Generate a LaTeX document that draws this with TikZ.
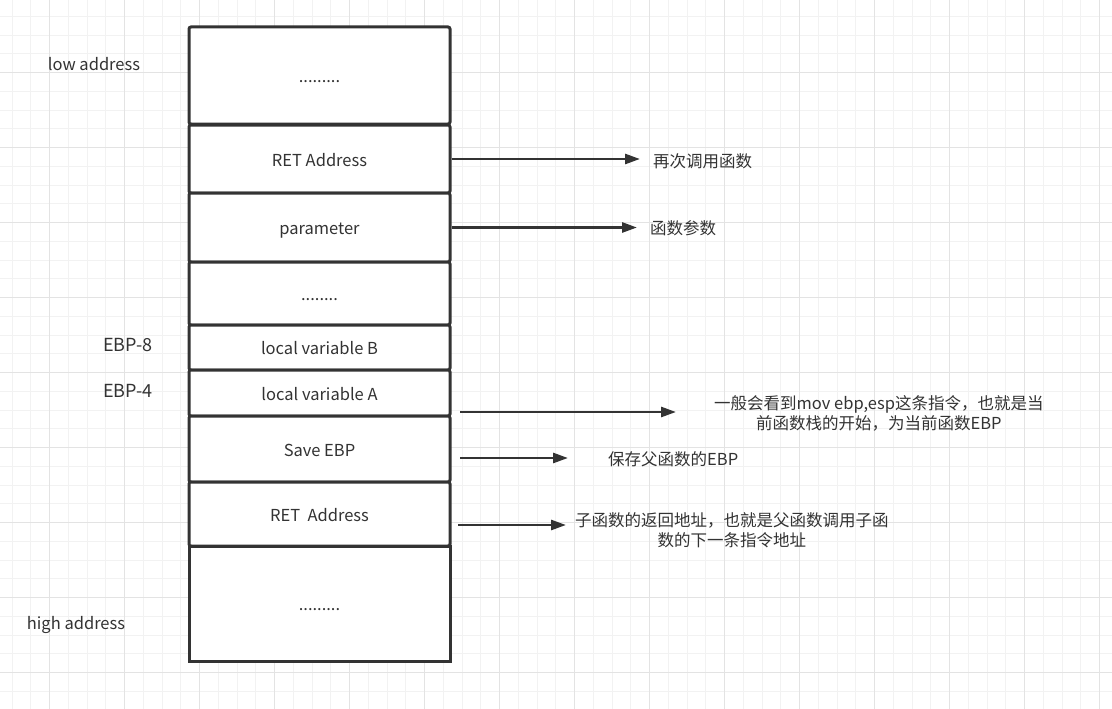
\documentclass[tikz,border=0pt]{standalone}
\usepackage{fontspec}
\setmainfont{Noto Sans CJK SC}
\usetikzlibrary{arrows.meta}
\definecolor{ink}{HTML}{333333}
\definecolor{gridminor}{HTML}{F2F2F2}
\definecolor{gridmajor}{HTML}{E3E3E3}

\begin{document}
\begin{tikzpicture}[x=1pt,y=-1pt,
cell/.style={draw=ink, line width=3pt, rounded corners=2pt, fill=white, minimum width=261pt, inner sep=0pt, text height=14pt, text depth=0pt, text=ink, font=\fontsize{16.5}{19}\selectfont},
note/.style={anchor=west, inner sep=0pt, align=center, text=ink, font=\fontsize{16.5}{20}\selectfont},
side/.style={text=ink, font=\fontsize{16.5}{19}\selectfont},
link/.style={draw=ink, line width=2.7pt, -{Triangle[length=15pt,width=10pt]}}
]
\useasboundingbox[fill=white] (0,0) rectangle (1112,709);
\foreach \i in {0,...,58} \draw[gridminor, line width=1pt] ({12+18.75*\i},0) -- ++(0,709);
\foreach \i in {0,...,36} \draw[gridminor, line width=1pt] (0,{16.45+18.75*\i}) -- ++(1112,0);
\foreach \i in {0,...,14} \draw[gridmajor, line width=1pt] ({49.5+75*\i},0) -- ++(0,709);
\foreach \i in {0,...,8} \draw[gridmajor, line width=1pt] (0,{72.7+75*\i}) -- ++(1112,0);

\node[cell, minimum height=97pt] (top) at (319.5,75.5) {.........};
\node[cell, minimum height=68pt] (ret) at (319.5,159) {RET Address};
\node[cell, minimum height=69pt] (param) at (319.5,227.5) {parameter};
\node[cell, minimum height=63pt] (mid) at (319.5,293.5) {........};
\node[cell, minimum height=45pt] (varb) at (319.5,347.5) {local variable B};
\node[cell, minimum height=46pt] (vara) at (319.5,393) {local variable A};
\node[cell, minimum height=66pt] (saveebp) at (319.5,449) {Save EBP};
\node[cell, minimum height=64pt] (retaddr) at (319.5,514) {RET\ \ Address};
\node[cell, minimum height=115pt, rounded corners=0pt] (bottom) at (319.5,603.5) {.........};

\node[side] (low) at (94,64) {low address};
\node[side] (high) at (76,625) {high address};
\node[side, font=\fontsize{18}{20}\selectfont] (ebpb) at (128,345) {EBP-8};
\node[side, font=\fontsize{18}{20}\selectfont] (ebpa) at (128,391) {EBP-4};

\node[note] (l1) at (653,161) {再次调用函数};
\node[note] (l2) at (650,228) {函数参数};
\node[note] (l3) at (714,413) {一般会看到mov ebp,esp这条指令，也就是当\\前函数栈的开始，为当前函数EBP};
\node[note] (l4) at (608,459) {保存父函数的EBP};
\node[note] (l5) at (575,530) {子函数的返回地址，也就是父函数调用子函\\数的下一条指令地址};

\coordinate (s3) at (460,412);
\coordinate (s4) at (460,458);
\coordinate (s5) at (458,525);
\draw[link, shorten >=13pt] (ret.east) -- (ret.east -| l1.west);
\draw[link, shorten >=13pt] (param.east) -- (param.east -| l2.west);
\draw[link, shorten >=38pt] (s3) -- (s3 -| l3.west);
\draw[link, shorten >=40pt] (s4) -- (s4 -| l4.west);
\draw[link, shorten >=9pt] (s5) -- (s5 -| l5.west);
\end{tikzpicture}
\end{document}
